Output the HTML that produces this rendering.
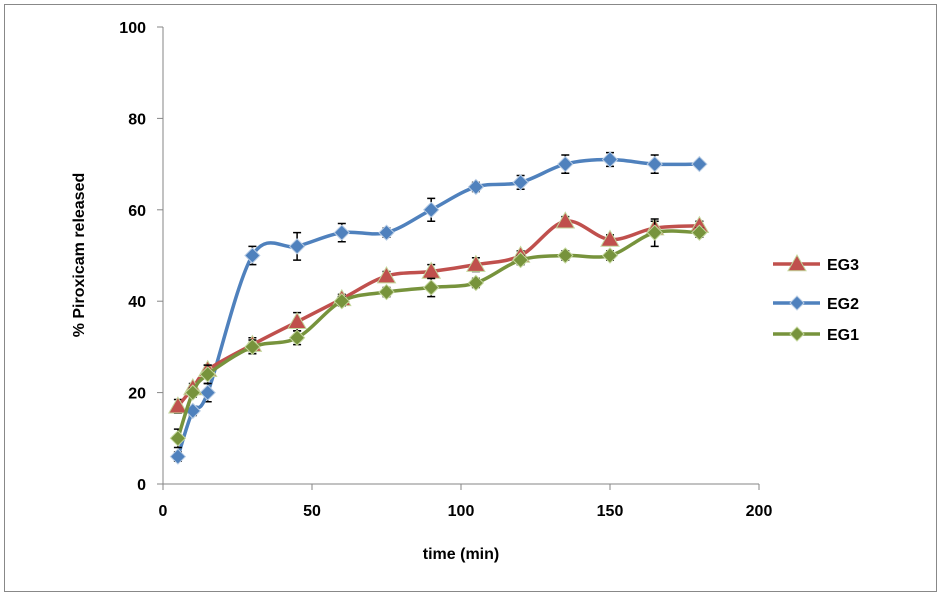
<!DOCTYPE html>
<html><head><meta charset="utf-8"><style>
body{margin:0;background:#fff;font-family:"Liberation Sans",Arial,sans-serif}
</style></head><body>
<svg id="chart" width="941" height="596" xmlns="http://www.w3.org/2000/svg">
<rect x="4.5" y="4.5" width="932" height="587" fill="#fff" stroke="#888"/>
<g id="axes"></g><g id="series"></g><g id="legend"></g>
<text x="84" y="255" transform="rotate(-90 84 255)" text-anchor="middle" font-size="16" font-weight="bold">% Piroxicam released</text>
<text x="461" y="559" text-anchor="middle" font-size="16" font-weight="bold">time (min)</text>
</svg>
<script>
const times=[5,10,15,30,45,60,75,90,105,120,135,150,165,180];
const eg3=[17,21,25,30.5,35.5,40.5,45.5,46.5,48,50,57.5,53.5,56,56.5];
const eg2=[6,16,20,50,52,55,55,60,65,66,70,71,70,70];
const eg1=[10,20,24,30,32,40,42,43,44,49,50,50,55,55];
const err3=[1.5,1,1,1.5,2,1,1,1.5,1.5,1,1,1,1.5,1];
const err2=[1,1,2,2,3,2,1,2.5,1,1.5,2,1.5,2,0];
const err1=[2,1,2,1.5,1.5,1,1,2,1,1,1,1,3,1];
const xTicks=[0,50,100,150,200];
const yTicks=[0,20,40,60,80,100];
const NS="http://www.w3.org/2000/svg";
const X=v=>163+v*(759-163)/200, Y=v=>484-v*(484-27)/100;
function mk(t,a,p){const e=document.createElementNS(NS,t);for(const k in a)e.setAttribute(k,a[k]);p.appendChild(e);return e;}
const ax=document.getElementById('axes');
let l=mk('line',{x1:163,y1:27,x2:163,y2:484,stroke:'#868686'},ax);


l=mk('line',{x1:163,y1:484,x2:759,y2:484,stroke:'#868686'},ax);


yTicks.forEach(v=>{mk('line',{x1:157,x2:163,y1:Y(v),y2:Y(v),stroke:'#868686'},ax);
const t=mk('text',{x:146,y:Y(v)+6,'text-anchor':'end','font-size':16,'font-weight':'bold'},ax);t.textContent=v;

});
xTicks.forEach(v=>{mk('line',{x1:X(v),x2:X(v),y1:484,y2:490,stroke:'#868686'},ax);
const t=mk('text',{x:X(v),y:516,'text-anchor':'middle','font-size':16,'font-weight':'bold'},ax);t.textContent=v;

});
function smooth(pts){let d=`M${pts[0][0]},${pts[0][1]}`;const k=1/6;
for(let i=0;i<pts.length-1;i++){const p0=pts[Math.max(i-1,0)],p1=pts[i],p2=pts[i+1],p3=pts[Math.min(i+2,pts.length-1)];
d+=` C${p1[0]+(p2[0]-p0[0])*k},${p1[1]+(p2[1]-p0[1])*k} ${p2[0]-(p3[0]-p1[0])*k},${p2[1]-(p3[1]-p1[1])*k} ${p2[0]},${p2[1]}`;}return d;}
function marker(g,x,y,shape,fill,stroke,s){
if(shape==='tri')return mk('path',{d:`M${x},${y-s} L${x+s},${y+s*0.75} L${x-s},${y+s*0.75}Z`,fill:fill,stroke:stroke},g);
return mk('path',{d:`M${x},${y-s} L${x+s},${y} L${x},${y+s} L${x-s},${y}Z`,fill:fill,stroke:stroke},g);}
const sg=document.getElementById('series');
const series=[['eg2',eg2,err2,'#4f81bd','dia','#b9cde5',7.5],['eg3',eg3,err3,'#c0504d','tri','#c3d69b',9],['eg1',eg1,err1,'#77933c','dia','#c3d69b',7.5]];
series.forEach(([name,vals,err,col,sh,st,s])=>{
const g=mk('g',{},sg);


times.forEach((t,i)=>{if(!err[i])return;const x=X(t),y1=Y(vals[i]+err[i]),y2=Y(vals[i]-err[i]);
mk('path',{d:`M${x},${y1}V${y2}M${x-4},${y1}H${x+4}M${x-4},${y2}H${x+4}`,stroke:'#000','stroke-width':1.5,fill:'none'},g);});
const p=mk('path',{d:smooth(times.map((t,i)=>[X(t),Y(vals[i])])),stroke:col,'stroke-width':3.5,fill:'none'},g);


times.forEach((t,i)=>{const m=marker(g,X(t),Y(vals[i]),sh,col,st,s);

});});
const lg=document.getElementById('legend');
[['EG3','#c0504d','tri','#c3d69b',264,9],['EG2','#4f81bd','dia','#b9cde5',303,7],['EG1','#77933c','dia','#c3d69b',334,7]].forEach(([n,c,sh,st,y,s])=>{
const g=mk('g',{},lg);


mk('line',{x1:773,x2:820,y1:y,y2:y,stroke:c,'stroke-width':3.5},g);
marker(g,797,y,sh,c,st,s);
const t=mk('text',{x:827,y:y+6,'font-size':16,'font-weight':'bold'},g);t.textContent=n;});
</script>
</body></html>
